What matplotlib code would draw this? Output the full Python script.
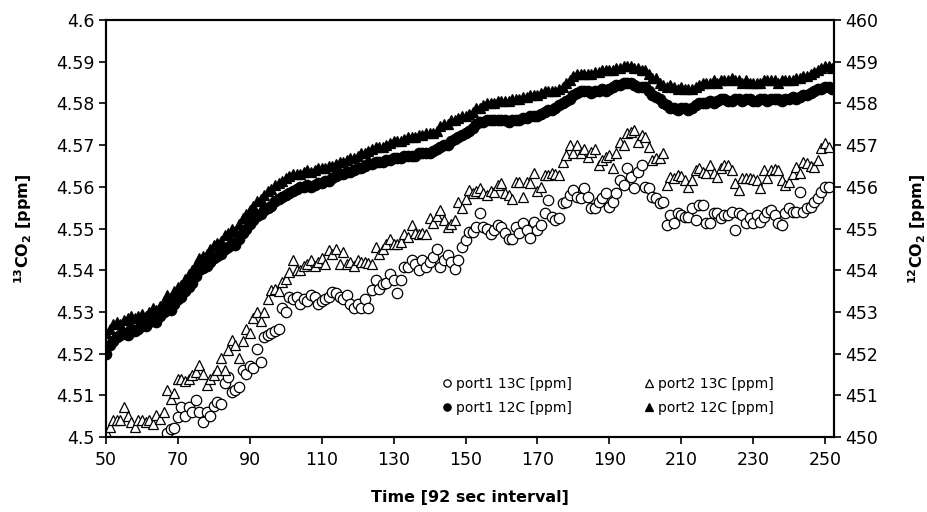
import numpy as np
import matplotlib
matplotlib.use('Agg')
from matplotlib import pyplot as plt

plt.rcParams['font.family'] = ['DejaVu Sans']
plt.rcParams['mathtext.fontset'] = 'dejavusans'

# time index of first point of each series
p1_13c_start = 67
p2_13c_start = 50
p1_12c_start = 50
p2_12c_start = 50

# port1 13C [ppm] (left axis), x = 67..251
p1_13c = [
    4.5010, 4.5018, 4.5022,
    4.5049, 4.5073, 4.5050, 4.5073, 4.5060, 4.5089, 4.5060, 4.5037, 4.5060, 4.5050,
    4.5075, 4.5085, 4.5080, 4.5130, 4.5145, 4.5109, 4.5112, 4.5120, 4.5160, 4.5150,
    4.5170, 4.5165, 4.5210, 4.5180, 4.5240, 4.5245, 4.5250, 4.5255, 4.5260, 4.5309,
    4.5300, 4.5336, 4.5330, 4.5335, 4.5320, 4.5330, 4.5325, 4.5340, 4.5335, 4.5320,
    4.5325, 4.5330, 4.5335, 4.5348, 4.5345, 4.5336, 4.5330, 4.5340, 4.5320, 4.5309,
    4.5320, 4.5310, 4.5330, 4.5310, 4.5353, 4.5376, 4.5356, 4.5368, 4.5370, 4.5392,
    4.5376, 4.5345, 4.5376, 4.5408, 4.5408, 4.5424, 4.5416, 4.5400, 4.5424, 4.5408,
    4.5420, 4.5432, 4.5452, 4.5408, 4.5425, 4.5436, 4.5420, 4.5404, 4.5424, 4.5456,
    4.5472, 4.5492, 4.5492, 4.5504, 4.5536, 4.5504, 4.5500, 4.5488, 4.5496, 4.5508,
    4.5504, 4.5490, 4.5476, 4.5476, 4.5504, 4.5490, 4.5512, 4.5496, 4.5478, 4.5516,
    4.5496, 4.5508, 4.5536, 4.5568, 4.5528, 4.5520, 4.5524, 4.5560, 4.5564, 4.5580,
    4.5592, 4.5576, 4.5572, 4.5596, 4.5576, 4.5548, 4.5548, 4.5564, 4.5572, 4.5584,
    4.5552, 4.5564, 4.5584, 4.5616, 4.5604, 4.5644, 4.5624, 4.5598, 4.5636, 4.5652,
    4.5600, 4.5596, 4.5576, 4.5572, 4.5560, 4.5564, 4.5508, 4.5532, 4.5512, 4.5536,
    4.5532, 4.5528, 4.5528, 4.5548, 4.5520, 4.5556, 4.5556, 4.5512, 4.5512, 4.5536,
    4.5536, 4.5524, 4.5532, 4.5532, 4.5540, 4.5496, 4.5536, 4.5532, 4.5512, 4.5524,
    4.5512, 4.5532, 4.5516, 4.5528, 4.5540, 4.5544, 4.5532, 4.5512, 4.5508, 4.5536,
    4.5548, 4.5540, 4.5540, 4.5588, 4.5540, 4.5548, 4.5552, 4.5564, 4.5572, 4.5588,
    4.5600, 4.5600,
]

# port2 13C [ppm] (left axis), x = 50..251
p2_13c = [
    4.5012, 4.5025, 4.5040, 4.5040, 4.5040, 4.5073, 4.5050, 4.5037, 4.5025, 4.5040,
    4.5040, 4.5035, 4.5040, 4.5030, 4.5053, 4.5042, 4.5060, 4.5113, 4.5090, 4.5105,
    4.5140, 4.5140, 4.5135, 4.5140, 4.5148, 4.5155, 4.5173, 4.5150, 4.5125, 4.5140,
    4.5148, 4.5160, 4.5189, 4.5160, 4.5209, 4.5233, 4.5220, 4.5190, 4.5230, 4.5260,
    4.5250, 4.5285, 4.5300, 4.5277, 4.5300, 4.5330, 4.5353, 4.5355, 4.5350, 4.5372,
    4.5380, 4.5396, 4.5424, 4.5400, 4.5400, 4.5410, 4.5415, 4.5424, 4.5410, 4.5420,
    4.5430, 4.5415, 4.5448, 4.5440, 4.5450, 4.5415, 4.5444, 4.5416, 4.5420, 4.5410,
    4.5424, 4.5420, 4.5420, 4.5418, 4.5416, 4.5456, 4.5440, 4.5450, 4.5464, 4.5476,
    4.5462, 4.5464, 4.5468, 4.5488, 4.5480, 4.5508, 4.5490, 4.5488, 4.5490, 4.5488,
    4.5524, 4.5512, 4.5530, 4.5544, 4.5520, 4.5504, 4.5510, 4.5520, 4.5564, 4.5550,
    4.5570, 4.5592, 4.5584, 4.5590, 4.5596, 4.5585, 4.5580, 4.5590, 4.5588, 4.5604,
    4.5608, 4.5584, 4.5580, 4.5570, 4.5612, 4.5612, 4.5575, 4.5612, 4.5608, 4.5632,
    4.5590, 4.5600, 4.5628, 4.5628, 4.5632, 4.5630, 4.5628, 4.5660, 4.5676, 4.5700,
    4.5680, 4.5700, 4.5680, 4.5690, 4.5672, 4.5684, 4.5690, 4.5652, 4.5664, 4.5672,
    4.5676, 4.5644, 4.5680, 4.5708, 4.5700, 4.5728, 4.5732, 4.5736, 4.5708, 4.5724,
    4.5720, 4.5696, 4.5664, 4.5668, 4.5668, 4.5680, 4.5604, 4.5624, 4.5620, 4.5628,
    4.5625, 4.5616, 4.5600, 4.5616, 4.5640, 4.5644, 4.5635, 4.5632, 4.5652, 4.5632,
    4.5624, 4.5645, 4.5652, 4.5652, 4.5640, 4.5608, 4.5592, 4.5620, 4.5620, 4.5620,
    4.5618, 4.5616, 4.5596, 4.5640, 4.5620, 4.5640, 4.5642, 4.5640, 4.5616, 4.5604,
    4.5612, 4.5630, 4.5648, 4.5632, 4.5660, 4.5656, 4.5650, 4.5648, 4.5664, 4.5692,
    4.5704, 4.5696,
]

# port1 12C [ppm] (right axis), x = 50..252
p1_12c = [
    452.0, 452.2, 452.3, 452.4, 452.45, 452.5, 452.45, 452.6, 452.55, 452.6,
    452.7, 452.65, 452.75, 452.8, 452.75, 452.9, 453.0, 453.1, 453.05, 453.2,
    453.3, 453.35, 453.5, 453.6, 453.7, 453.85, 454.0, 454.05, 454.1, 454.2,
    454.3, 454.35, 454.4, 454.5, 454.55, 454.65, 454.6, 454.75, 454.9, 455.0,
    455.1, 455.2, 455.3, 455.35, 455.45, 455.5, 455.55, 455.65, 455.7, 455.75,
    455.8, 455.85, 455.9, 455.95, 456.0, 456.0, 456.05, 456.0, 456.05, 456.1,
    456.1, 456.15, 456.15, 456.2, 456.25, 456.3, 456.3, 456.35, 456.35, 456.4,
    456.45, 456.45, 456.5, 456.55, 456.55, 456.6, 456.6, 456.6, 456.65, 456.65,
    456.7, 456.7, 456.7, 456.75, 456.75, 456.75, 456.75, 456.8, 456.8, 456.8,
    456.8, 456.85, 456.9, 456.95, 457.0, 457.0, 457.1, 457.15, 457.2, 457.25,
    457.3, 457.35, 457.4, 457.5, 457.55, 457.55, 457.6, 457.6, 457.6, 457.6,
    457.6, 457.6, 457.55, 457.6, 457.6, 457.6, 457.65, 457.65, 457.7, 457.7,
    457.7, 457.75, 457.8, 457.85, 457.85, 457.9, 457.95, 458.0, 458.05, 458.1,
    458.2, 458.25, 458.3, 458.3, 458.3, 458.25, 458.3, 458.3, 458.35, 458.3,
    458.35, 458.4, 458.45, 458.45, 458.5, 458.5, 458.5, 458.45, 458.4, 458.4,
    458.4, 458.3, 458.2, 458.15, 458.1, 458.0, 457.95, 457.9, 457.9, 457.85,
    457.9, 457.9, 457.85, 457.9, 457.95, 458.0, 458.0, 458.0, 458.05, 458.0,
    458.05, 458.1, 458.1, 458.05, 458.05, 458.1, 458.1, 458.05, 458.1, 458.1,
    458.05, 458.05, 458.1, 458.1, 458.05, 458.1, 458.1, 458.1, 458.05, 458.1,
    458.1, 458.15, 458.1, 458.15, 458.2, 458.2, 458.25, 458.3, 458.35, 458.35,
    458.4, 458.4, 458.35,
]

# port2 12C [ppm] (right axis), x = 50..252
p2_12c = [
    452.5, 452.6, 452.7, 452.75, 452.7, 452.8, 452.85, 452.9, 452.85, 452.9,
    452.95, 452.9, 453.0, 453.1, 453.05, 453.15, 453.25, 453.4, 453.35, 453.5,
    453.6, 453.65, 453.8, 453.9, 454.0, 454.15, 454.3, 454.35, 454.4, 454.5,
    454.6, 454.65, 454.7, 454.85, 454.9, 455.0, 454.95, 455.1, 455.25, 455.35,
    455.45, 455.55, 455.65, 455.7, 455.8, 455.9, 455.95, 456.05, 456.1, 456.15,
    456.2, 456.25, 456.3, 456.3, 456.3, 456.35, 456.4, 456.35, 456.4, 456.45,
    456.45, 456.45, 456.5, 456.5, 456.55, 456.6, 456.6, 456.65, 456.7, 456.7,
    456.75, 456.8, 456.8, 456.85, 456.9, 456.95, 456.95, 456.95, 457.0, 457.05,
    457.1, 457.1, 457.1, 457.15, 457.2, 457.2, 457.2, 457.25, 457.25, 457.3,
    457.3, 457.3, 457.35, 457.45, 457.5, 457.5, 457.6, 457.6, 457.65, 457.7,
    457.7, 457.75, 457.8, 457.9, 457.9, 457.95, 458.0, 458.0, 458.0, 458.05,
    458.05, 458.05, 458.05, 458.1, 458.1, 458.1, 458.15, 458.15, 458.2, 458.2,
    458.2, 458.25, 458.3, 458.3, 458.3, 458.3, 458.35, 458.4, 458.5, 458.55,
    458.65, 458.7, 458.7, 458.7, 458.7, 458.7, 458.75, 458.75, 458.8, 458.8,
    458.8, 458.8, 458.85, 458.85, 458.9, 458.9, 458.9, 458.85, 458.85, 458.8,
    458.8, 458.7, 458.6, 458.6, 458.5, 458.45, 458.4, 458.45, 458.4, 458.35,
    458.4, 458.35, 458.35, 458.35, 458.4, 458.45, 458.5, 458.5, 458.5, 458.55,
    458.5, 458.55, 458.55, 458.55, 458.6, 458.55, 458.55, 458.5, 458.55, 458.5,
    458.5, 458.5, 458.5, 458.55, 458.55, 458.55, 458.55, 458.5, 458.55, 458.55,
    458.55, 458.55, 458.6, 458.6, 458.65, 458.65, 458.7, 458.75, 458.8, 458.85,
    458.9, 458.9, 458.85,
]


def time_axis(start, values):
    return np.arange(start, start + len(values))


fig = plt.figure(figsize=(9.28, 5.12), dpi=100)
ax = fig.add_axes([106 / 928, 1 - 437 / 512, 728 / 928, 417 / 512])
ax2 = ax.twinx()

ms = 7.5
mew = 0.9
h1, = ax.plot(time_axis(p1_13c_start, p1_13c), p1_13c, 'o', ms=ms, mfc='white', mec='black', mew=mew,
              label='port1 13C [ppm]')
h2, = ax.plot(time_axis(p2_13c_start, p2_13c), p2_13c, '^', ms=ms, mfc='white', mec='black', mew=mew,
              label='port2 13C [ppm]')
h3, = ax2.plot(time_axis(p1_12c_start, p1_12c), p1_12c, 'o', ms=ms, mfc='black', mec='black', mew=mew,
               label='port1 12C [ppm]')
h4, = ax2.plot(time_axis(p2_12c_start, p2_12c), p2_12c, '^', ms=ms, mfc='black', mec='black', mew=mew,
               label='port2 12C [ppm]')

ax.set_xlim(50, 252.5)
ax.set_ylim(4.5, 4.6)
ax2.set_ylim(450, 460)
ax.set_xticks(np.arange(50, 251, 20))
ax.set_yticks(np.arange(4.5, 4.6001, 0.01))
ax.set_yticklabels(['4.5', '4.51', '4.52', '4.53', '4.54', '4.55', '4.56', '4.57', '4.58', '4.59', '4.6'])
ax2.set_yticks(np.arange(450, 461, 1))

for a in (ax, ax2):
    a.tick_params(direction='out', length=5, width=1.2, labelsize=12.5, pad=3)
    for s in a.spines.values():
        s.set_linewidth(1.5)
ax.tick_params(axis='x', pad=5)

ax.set_xlabel('Time [92 sec interval]', fontsize=11.5, fontweight='bold', labelpad=15)
ax.set_ylabel(r'$\mathregular{^{13}}$CO$\mathregular{_2}$ [ppm]', fontsize=11.5, fontweight='bold', labelpad=16)
ax2.set_ylabel(r'$\mathregular{^{12}}$CO$\mathregular{_2}$ [ppm]', fontsize=11.5, fontweight='bold', labelpad=20)

leg = ax2.legend(handles=[h1, h3, h2, h4], ncol=2, loc='lower left', bbox_to_anchor=(0.45, 0.03),
                 frameon=False, fontsize=10, markerscale=0.7, handlelength=0.6, handletextpad=0.3,
                 columnspacing=5.3, labelspacing=0.7, borderpad=0.2)

fig.savefig('out.png', dpi=100)
